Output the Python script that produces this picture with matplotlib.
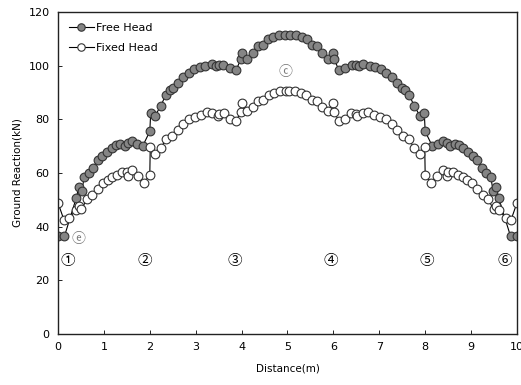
import matplotlib.pyplot as plt

# ground reaction along the raft, free vs fixed pile heads
free_x = [0.00, 0.14, 0.40, 0.45, 0.52, 0.57, 0.67, 0.76, 0.87, 0.96, 1.06, 1.17,
          1.27, 1.36, 1.45, 1.52, 1.62, 1.73, 1.85, 2.00, 2.02, 2.11, 2.24, 2.35,
          2.45, 2.50, 2.62, 2.73, 2.86, 2.97, 3.09, 3.20, 3.35, 3.45, 3.50, 3.60,
          3.75, 3.88, 3.99, 4.00, 4.12, 4.24, 4.36, 4.47, 4.58, 4.69, 4.82, 4.94,
          5.06, 5.18, 5.31, 5.42, 5.53, 5.64, 5.76, 5.88, 6.00, 6.01, 6.12, 6.25,
          6.40, 6.50, 6.55, 6.65, 6.80, 6.91, 7.03, 7.14, 7.27, 7.38, 7.50, 7.55,
          7.65, 7.76, 7.89, 7.98, 8.00, 8.15, 8.27, 8.38, 8.48, 8.55, 8.64, 8.73,
          8.83, 8.94, 9.04, 9.13, 9.24, 9.33, 9.43, 9.48, 9.55, 9.60, 9.86, 10.00]
free_y = [36.4, 36.4, 50.8, 54.6, 53.2, 58.4, 60.1, 62.0, 64.8, 66.5, 67.8, 69.2,
          70.4, 70.9, 70.2, 71.3, 71.8, 70.7, 70.2, 75.5, 82.4, 81.2, 85.0, 89.2,
          90.8, 91.6, 93.7, 95.7, 97.4, 98.8, 99.6, 100.0, 100.5, 99.7, 100.1, 100.3,
          99.0, 98.4, 102.6, 104.7, 102.4, 104.6, 107.2, 107.8, 109.8, 110.8, 111.3, 111.4,
          111.4, 111.3, 110.8, 109.8, 107.8, 107.2, 104.6, 102.4, 104.7, 102.6, 98.4, 99.0,
          100.3, 100.1, 99.7, 100.5, 100.0, 99.6, 98.8, 97.4, 95.7, 93.7, 91.6, 90.8,
          89.2, 85.0, 81.2, 82.4, 75.5, 70.2, 70.7, 71.8, 71.3, 70.2, 70.9, 70.4,
          69.2, 67.8, 66.5, 64.8, 62.0, 60.1, 58.4, 53.2, 54.6, 50.8, 36.4, 36.4]

fixed_x = [0.00, 0.13, 0.24, 0.40, 0.46, 0.51, 0.63, 0.75, 0.88, 0.99, 1.09, 1.17,
           1.28, 1.39, 1.50, 1.53, 1.62, 1.74, 1.87, 2.00, 2.01, 2.11, 2.24, 2.35,
           2.49, 2.62, 2.73, 2.86, 2.98, 3.12, 3.24, 3.36, 3.48, 3.50, 3.62, 3.75,
           3.88, 3.99, 4.00, 4.12, 4.24, 4.36, 4.47, 4.60, 4.71, 4.84, 4.96,
           5.04, 5.16, 5.29, 5.40, 5.53, 5.64, 5.76, 5.88, 6.00, 6.01, 6.12, 6.25,
           6.38, 6.50, 6.52, 6.64, 6.76, 6.88, 7.02, 7.14, 7.27, 7.38, 7.51, 7.65,
           7.76, 7.89, 7.99, 8.00, 8.13, 8.26, 8.38, 8.47, 8.50, 8.61, 8.72, 8.83,
           8.91, 9.01, 9.12, 9.25, 9.37, 9.49, 9.54, 9.60, 9.76, 9.87, 10.00]
fixed_y = [48.9, 42.5, 43.2, 46.3, 47.6, 46.5, 50.2, 51.9, 54.2, 56.3, 57.5, 58.6,
           59.3, 60.2, 60.4, 59.0, 61.0, 59.0, 56.4, 59.2, 69.6, 67.2, 69.2, 72.6,
           73.9, 76.0, 78.1, 80.0, 80.8, 81.8, 82.6, 82.5, 81.4, 82.0, 82.2, 80.3,
           79.5, 82.8, 86.1, 83.2, 84.5, 87.0, 87.3, 89.0, 90.0, 90.6, 90.7,
           90.7, 90.6, 90.0, 89.0, 87.3, 87.0, 84.5, 83.2, 86.1, 82.8, 79.5, 80.3,
           82.2, 82.0, 81.4, 82.5, 82.6, 81.8, 80.8, 80.0, 78.1, 76.0, 73.9, 72.6,
           69.2, 67.2, 69.6, 59.2, 56.4, 59.0, 61.0, 59.0, 60.4, 60.2, 59.3, 58.6,
           57.5, 56.3, 54.2, 51.9, 50.2, 46.5, 47.6, 46.3, 43.2, 42.5, 48.9]

# pile positions and section marks
pile_labels = ['\u2460', '\u2461', '\u2462', '\u2463', '\u2464', '\u2465']
pile_label_x = [0.22, 1.90, 3.86, 5.95, 8.04, 9.74]
pile_label_y = 27.2
point_labels = ['\u24d2', '\u24d4']
point_label_x = [4.95, 0.44]
point_label_y = [97.8, 35.4]

plt.rcParams['font.family'] = ['DejaVu Sans', 'Noto Sans CJK KR']

fig = plt.figure(figsize=(5.21, 3.85), dpi=100)
ax = fig.add_axes([0.1113, 0.1325, 0.881, 0.8363])

ax.plot(free_x, free_y, color='black', lw=0.8, marker='o', ms=6.3,
        mfc='#858585', mec='#333333', mew=0.8, label='Free Head')
ax.plot(fixed_x, fixed_y, color='black', lw=0.8, marker='o', ms=6.3,
        mfc='white', mec='#333333', mew=0.8, label='Fixed Head')

for lab, xx in zip(pile_labels, pile_label_x):
    ax.text(xx, pile_label_y, lab, ha='center', va='center', fontsize=10.5,
            family=['Noto Sans CJK KR', 'DejaVu Sans'])
for lab, xx, yy in zip(point_labels, point_label_x, point_label_y):
    ax.text(xx, yy, lab, ha='center', va='center', fontsize=10, color='#777777',
            family=['Noto Sans CJK KR', 'DejaVu Sans'])

ax.set_xlim(0, 10)
ax.set_ylim(0, 120)
ax.set_xticks(range(0, 11))
ax.set_yticks(range(0, 121, 20))
ax.tick_params(direction='in', length=3, width=0.6, labelsize=8, pad=6)
for sp in ax.spines.values():
    sp.set_linewidth(1.0)
    sp.set_color('#222222')

ax.set_xlabel('Distance(m)', fontsize=7.5, labelpad=8)
ax.set_ylabel('Ground Reaction(kN)', fontsize=7.5, labelpad=4)

ax.legend(loc='upper left', frameon=False, fontsize=8, handlelength=2.2,
          handletextpad=0.2, labelspacing=0.9, borderaxespad=0.6,
          markerscale=0.85)

fig.savefig('out.png', dpi=100)
